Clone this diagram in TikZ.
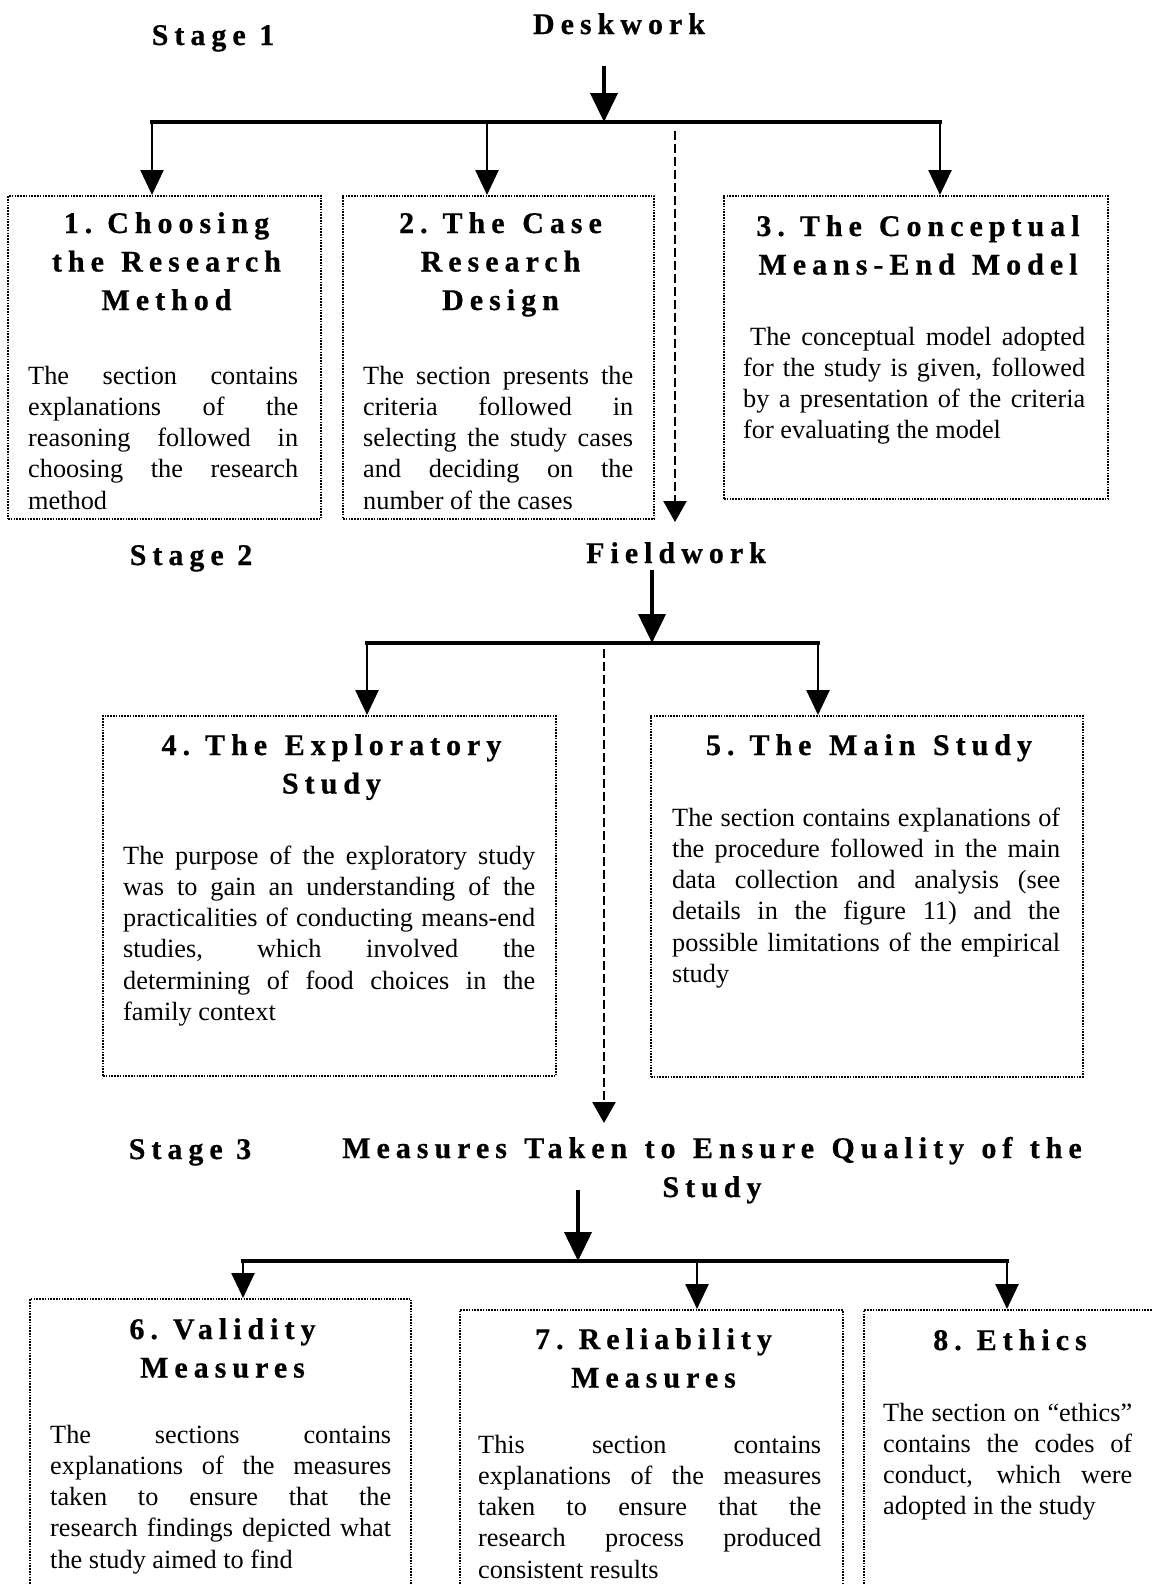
\documentclass[tikz,border=0pt]{standalone}
\usepackage{fontspec}
\setmainfont{Liberation Serif}
\newfontfamily\headfont[LetterSpace=20, FakeBold=0.6]{Liberation Serif Bold}
\usetikzlibrary{arrows.meta}
\tolerance=10000
\hbadness=10000
\hyphenpenalty=10000
\exhyphenpenalty=10000
% wider word gaps inside the letter-spaced multi-line headings
\newcommand\wsp{\spaceskip=16pt plus 2pt\relax}

\tikzset{
  panel/.style={draw, line width=2pt, dash pattern=on 1.6pt off 1.2pt,
    inner sep=0pt, anchor=north west},
  head/.style={font=\headfont\fontsize{30}{38.5}\selectfont,
    align=center, inner sep=0pt, anchor=base, xshift=3pt},
  stagetext/.style={font=\headfont\fontsize{30}{39}\selectfont,
    align=center, inner sep=0pt, anchor=base, xshift=3pt},
  body/.style={font=\fontsize{26.3}{31.3}\selectfont, align=justify,
    inner sep=0pt, anchor=base west},
  bus/.style={line width=4pt, line cap=rect},
  bigarrow/.style={line width=4pt, -{Triangle[width=27pt,length=29pt]}},
  droparrow/.style={line width=2.6pt, -{Triangle[width=23pt,length=25pt]}},
  flowarrow/.style={line width=2.6pt, dash pattern=on 9pt off 4pt,
    -{Triangle[width=23pt,length=21pt]}},
}

\begin{document}
\begin{tikzpicture}[x=1pt, y=-1pt]
\useasboundingbox (0,0) rectangle (1152,1585);
\clip (0,0) rectangle (1152,1585);
\fill[white] (0,0) rectangle (1152,1585);

% ---------------- Stage 1: deskwork ----------------
\node[stagetext] (st1) at (210,45) {Stage 1};
\node[stagetext] (desk) at (616,34) {Deskwork};

\coordinate (a0) at (604,66);
\coordinate (j1) at (152,122);
\coordinate (j2) at (487,122);
\coordinate (j3) at (940,122);
\coordinate (s1) at (675,131);
\coordinate (s1e) at (675,522);

\node[panel, minimum width=313pt, minimum height=323pt] (b1) at (7,195) {};
\node[panel, minimum width=311pt, minimum height=323pt] (b2) at (342,195) {};
\node[panel, minimum width=384pt, minimum height=303pt] (b3) at (723,195) {};

\draw[bus] (j1) -- (j3);
\draw[bigarrow] (a0) -- (a0 |- j1);
\draw[droparrow] (j1) -- (j1 |- b1.north);
\draw[droparrow] (j2) -- (j2 |- b2.north);
\draw[droparrow] (j3) -- (j3 |- b3.north);
\draw[flowarrow] (s1) -- (s1e);

\node[head, text width=300pt] (h1) at (163.5,233) {\wsp 1. Choosing\\the Research\\Method};
\node[body, text width=270pt] (t1) at (28,384)
  {The section contains\linebreak explanations of the\linebreak
   reasoning followed in\linebreak choosing the research\linebreak method};

\node[head, text width=300pt] (h2) at (497.5,233) {\wsp 2. The Case\\Research\\Design};
\node[body, text width=270pt] (t2) at (363,384)
  {The section presents the\linebreak criteria followed in\linebreak
   selecting the study cases\linebreak and deciding on the\linebreak
   number of the cases};

\node[head, text width=380pt] (h3) at (915,236) {\wsp 3. The Conceptual\\Means-End Model};
\node[body, text width=342pt] (t3) at (743,345)
  {\hspace*{7pt}The conceptual model adopted\linebreak
   for the study is given, followed\linebreak
   by a presentation of the criteria\linebreak for evaluating the model};

% ---------------- Stage 2: fieldwork ----------------
\node[stagetext] (st2) at (188,565) {Stage 2};
\node[stagetext] (field) at (673,563) {Fieldwork};

\coordinate (a1) at (652,570);
\coordinate (k1) at (367,643);
\coordinate (k2) at (818,643);
\coordinate (s2) at (604,649);
\coordinate (s2e) at (604,1123);

\node[panel, minimum width=453pt, minimum height=360pt] (b4) at (102,715) {};
\node[panel, minimum width=432pt, minimum height=361pt] (b5) at (650,715) {};

\draw[bus] (k1) -- (k2);
\draw[bigarrow] (a1) -- (a1 |- k1);
\draw[droparrow] (k1) -- (k1 |- b4.north);
\draw[droparrow] (k2) -- (k2 |- b5.north);
\draw[flowarrow] (s2) -- (s2e);

\node[head, text width=440pt] (h4) at (328.5,755) {\wsp 4. The Exploratory\\Study};
\node[body, text width=412pt] (t4) at (123,864)
  {The purpose of the exploratory study\linebreak
   was to gain an understanding of the\linebreak
   practicalities of conducting means-end\linebreak
   studies, which involved the\linebreak
   determining of food choices in the\linebreak family context};

\node[head, text width=420pt] (h5) at (866,755) {\wsp 5. The Main Study};
\node[body, text width=388pt] (t5) at (672,826)
  {The section contains explanations of\linebreak
   the procedure followed in the main\linebreak
   data collection and analysis (see\linebreak
   details in the figure 11) and the\linebreak
   possible limitations of the empirical\linebreak study};

% ---------------- Stage 3: quality measures ----------------
\node[stagetext] (st3) at (187,1159) {Stage 3};
\node[stagetext, text width=820pt] (qual) at (709,1158)
  {\wsp Measures Taken to Ensure Quality of the\\Study};

\coordinate (a2) at (578,1190);
\coordinate (m1) at (243,1261);
\coordinate (m2) at (697,1261);
\coordinate (m3) at (1007,1261);

\node[panel, minimum width=381pt, minimum height=310pt] (b6) at (29,1298) {};
\node[panel, minimum width=383pt, minimum height=300pt] (b7) at (459,1309) {};
\node[panel, minimum width=292pt, minimum height=300pt] (b8) at (863,1309) {};

\draw[bus] (m1) -- (m3);
\draw[bigarrow] (a2) -- (a2 |- m1);
\draw[droparrow] (m1) -- (m1 |- b6.north);
\draw[droparrow] (m2) -- (m2 |- b7.north);
\draw[droparrow] (m3) -- (m3 |- b8.north);

\node[head, text width=370pt] (h6) at (219.5,1339) {\wsp 6. Validity\\Measures};
\node[body, text width=341pt] (t6) at (50,1443)
  {The sections contains\linebreak explanations of the measures\linebreak
   taken to ensure that the\linebreak research findings depicted what\linebreak
   the study aimed to find};

\node[head, text width=370pt] (h7) at (650.5,1349) {\wsp 7. Reliability\\Measures};
\node[body, text width=343pt] (t7) at (478,1453)
  {This section contains\linebreak explanations of the measures\linebreak
   taken to ensure that the\linebreak research process produced\linebreak
   consistent results};

\node[head, text width=280pt] (h8) at (1007,1350) {\wsp 8. Ethics};
\node[body, text width=249pt] (t8) at (883,1421)
  {The section on “ethics”\linebreak contains the codes of\linebreak
   conduct, which were\linebreak adopted in the study};
\end{tikzpicture}
\end{document}
